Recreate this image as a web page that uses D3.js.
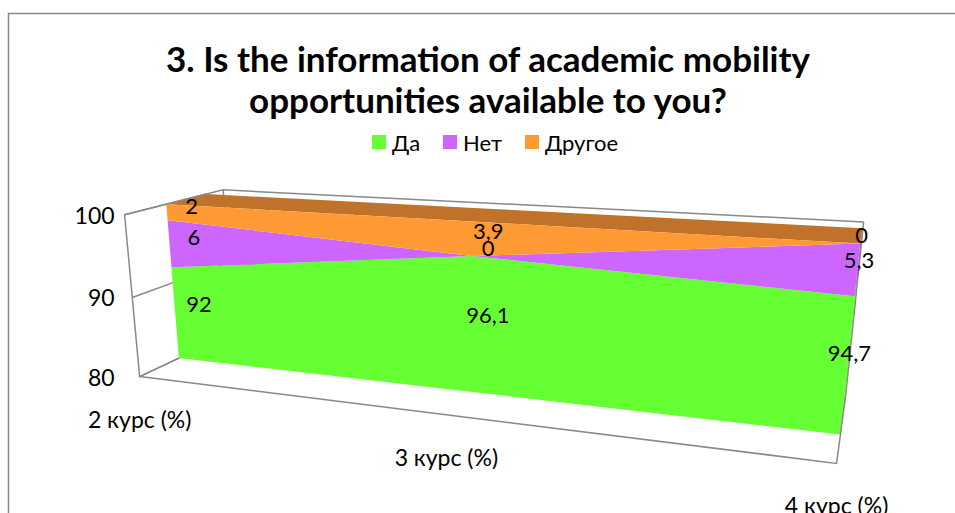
<!doctype html>
<meta charset="utf8">
<style>
  body { margin: 0; background: #fff; }
  svg { display: block; font-family: Lato, "Open Sans", sans-serif; }
</style>
<body>
<div id="chart"></div>
<script src="https://d3js.org/d3.v7.min.js"></script>
<script>
(function() {

const WIDTH = 955;
const HEIGHT = 513;

const TITLE = ["3. Is the information of academic mobility", "opportunities available to you?"];
const CATEGORIES = ["2 курс (%)", "3 курс (%)", "4 курс (%)"];
const SERIES = ["Да", "Нет", "Другое"];
const DA = [92, 96.1, 94.7];
const NET = [6, 0, 5.3];
const DRUGOE = [2, 3.9, 0];
const VALUE_TICKS = [80, 90, 100];
const COLORS = ["#66ff33", "#cc66ff", "#ff9933"];
const TOP_COLOR = "#c1722a";

// 3x4 perspective camera: world (category 0..2, value 0..1, depth 0..1) -> screen px
const CAMERA = [
  [258.9982, -20.38809, 125.7028, 139.6226],
  [-6.152183, -171.0368, 2.787693, 376.5910],
  [-0.1069524, -0.04300520, 0.1403094, 1],
];
const Z_FRONT = 0.39;
const Z_BACK = 0.81;
const Z_LABEL = 0.643;

function project(X, Y, Z) {
  const [a, b, c] = CAMERA.map(r => r[0] * X + r[1] * Y + r[2] * Z + r[3]);
  return [a / c, b / c];
}

const x = d3.scalePoint().domain(CATEGORIES).range([0, 2]);
const y = d3.scaleLinear().domain([80, 100]).range([0, 1]);

const rows = CATEGORIES.map((c, i) => ({ category: c, "Да": DA[i], "Нет": NET[i], "Другое": DRUGOE[i] }));
const stacked = d3.stack().keys(SERIES)(rows);
const floor = v => Math.max(v, y.domain()[0]);

const svg = d3.select("#chart").append("svg")
  .attr("width", WIDTH)
  .attr("height", HEIGHT);

svg.append("rect")
  .attr("x", 8.5).attr("y", 13.5)
  .attr("width", WIDTH).attr("height", HEIGHT)
  .attr("fill", "#fff")
  .attr("stroke", "#898989")
  .attr("stroke-width", 1.5);

svg.append("text")
  .attr("x", 488).attr("y", 72)
  .attr("text-anchor", "middle")
  .attr("font-size", 35).attr("font-weight", "bold")
  .selectAll("tspan").data(TITLE).join("tspan")
    .attr("x", 488).attr("dy", (d, i) => i ? 41 : 0)
    .text(d => d);

const legend = svg.append("g").attr("font-size", 22);
const legendX = [372, 443, 525];
SERIES.forEach((s, i) => {
  legend.append("rect").attr("x", legendX[i]).attr("y", 135).attr("width", 14).attr("height", 14).attr("fill", COLORS[i]);
  legend.append("text").attr("x", legendX[i] + 20).attr("y", 142).attr("dominant-baseline", "central").text(s);
});

const line = d3.line();
const poly = pts => line(pts) + "Z";
const path3 = pts => line(pts.map(p => project(...p)));

// walls behind the series
const back = svg.append("g")
  .attr("fill", "none")
  .attr("stroke", "#898989")
  .attr("stroke-width", 1.5);

[[[0, 0, 1], [0, 1, 1]], [[2, 0, 1], [2, 1, 1]]].forEach(l => back.append("path").attr("d", path3(l)));
VALUE_TICKS.forEach(v => {
  back.append("path").attr("d", path3([[0, y(v), 0], [0, y(v), 1], [2, y(v), 1]]));
});

const series = svg.append("g");
const n = CATEGORIES.length;
const last = x(CATEGORIES[n - 1]);

// right end caps
stacked.forEach((layer, s) => {
  const lo = y(floor(layer[n - 1][0]));
  const hi = y(layer[n - 1][1]);
  series.append("path")
    .attr("fill", d3.color(COLORS[s]).darker(0.5))
    .attr("d", poly([
      project(last, lo, Z_FRONT), project(last, hi, Z_FRONT),
      project(last, hi, Z_BACK), project(last, lo, Z_BACK),
    ]));
});

// top surface of the stack
const topLayer = stacked[stacked.length - 1];
series.append("path")
  .attr("fill", TOP_COLOR)
  .attr("d", poly([
    ...CATEGORIES.map((c, i) => project(x(c), y(topLayer[i][1]), Z_FRONT)),
    ...CATEGORIES.map((c, i) => project(x(c), y(topLayer[i][1]), Z_BACK)).reverse(),
  ]));

// front faces
stacked.forEach((layer, s) => {
  series.append("path")
    .attr("fill", COLORS[s])
    .attr("d", poly([
      ...CATEGORIES.map((c, i) => project(x(c), y(layer[i][1]), Z_FRONT)),
      ...CATEGORIES.map((c, i) => project(x(c), y(floor(layer[i][0])), Z_FRONT)).reverse(),
    ]));
});

const front = svg.append("g")
  .attr("fill", "none")
  .attr("stroke", "#898989")
  .attr("stroke-width", 1.5);
[
  [[0, 0, Z_FRONT], [0, 0, 0], [0, 1, 0], [0, 1, Z_BACK]],
  [[0, 0, 0], [2, 0, 0], [2, 0, 1]],
].forEach(l => front.append("path").attr("d", path3(l)));

const labels = svg.append("g").attr("font-size", 22).attr("text-anchor", "middle");
stacked.forEach(layer => {
  layer.forEach((d, i) => {
    const mid = (floor(d[0]) + d[1]) / 2;
    const [px, py] = project(x(CATEGORIES[i]), y(mid), Z_LABEL);
    labels.append("text")
      .attr("x", px).attr("y", py)
      .attr("dominant-baseline", "central")
      .text(String(d.data[layer.key]).replace(".", ","));
  });
});

CATEGORIES.forEach(c => {
  const [px, py] = project(x(c), 0, 0);
  labels.append("text")
    .attr("font-size", 23)
    .attr("x", px).attr("y", py + 42)
    .attr("dominant-baseline", "central")
    .text(c);
});

const tickRight = d3.min(VALUE_TICKS, v => project(0, y(v), 0)[0]) - 10;
VALUE_TICKS.forEach(v => {
  labels.append("text")
    .attr("font-size", 23)
    .attr("x", tickRight).attr("y", project(0, y(v), 0)[1])
    .attr("text-anchor", "end").attr("dominant-baseline", "central")
    .text(v);
});

})();
</script>
